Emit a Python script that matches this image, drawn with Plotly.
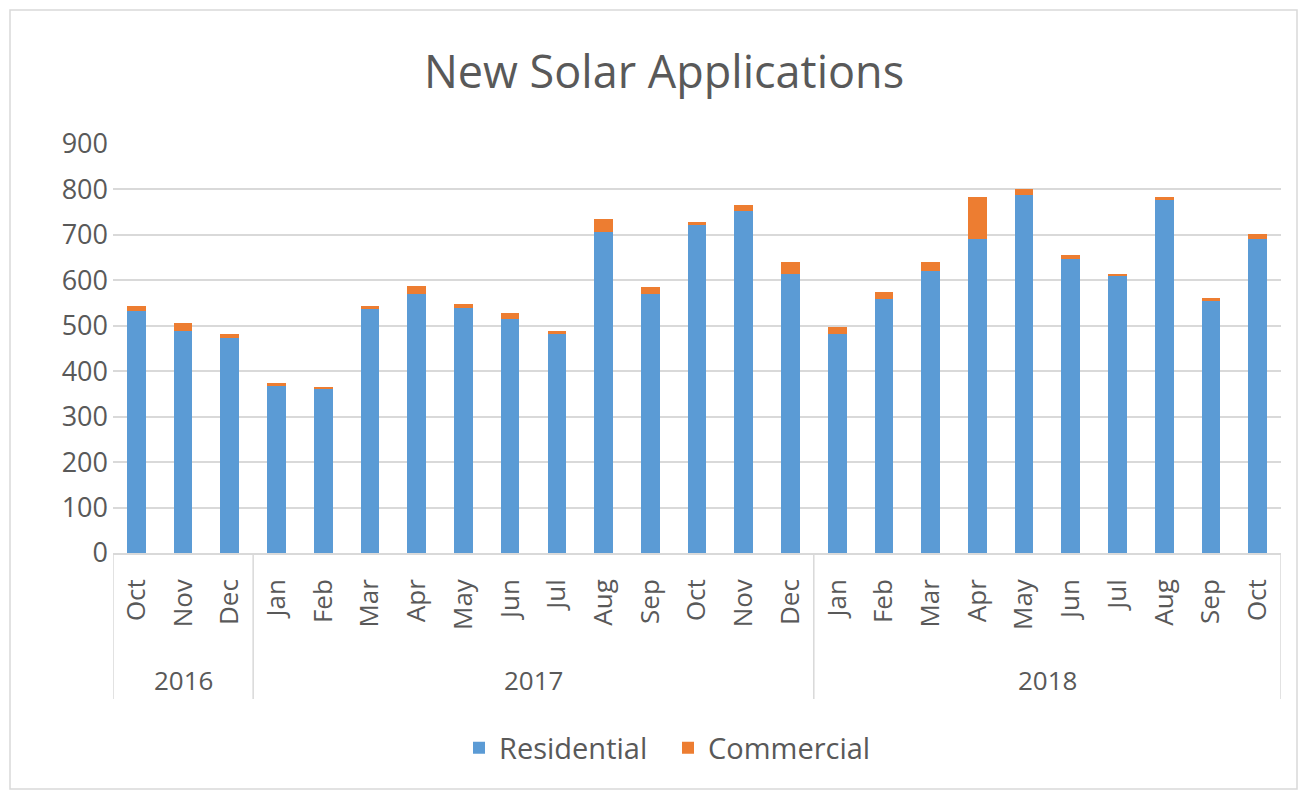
import plotly.graph_objects as go

years = ["2016"] * 3 + ["2017"] * 12 + ["2018"] * 10
months = ["Oct", "Nov", "Dec",
          "Jan", "Feb", "Mar", "Apr", "May", "Jun", "Jul", "Aug", "Sep", "Oct", "Nov", "Dec",
          "Jan", "Feb", "Mar", "Apr", "May", "Jun", "Jul", "Aug", "Sep", "Oct"]
residential = [532, 489, 474,
               368, 361, 536, 571, 539, 516, 482, 706, 570, 722, 753, 613,
               481, 558, 621, 691, 788, 648, 610, 777, 555, 691]
commercial = [12, 17, 7,
              5, 4, 7, 16, 9, 12, 7, 28, 16, 7, 12, 27,
              16, 16, 19, 93, 12, 8, 3, 7, 7, 12]
y_ticks = [0, 100, 200, 300, 400, 500, 600, 700, 800, 900]

FONT = "Open Sans"
GREY = "#595959"
LINE = "#d9d9d9"

idx = list(range(len(months)))

fig = go.Figure()
fig.add_trace(go.Bar(x=idx, y=residential, name="Residential",
                     marker=dict(color="#5B9BD5", line=dict(width=0))))
fig.add_trace(go.Bar(x=idx, y=commercial, name="Commercial",
                     marker=dict(color="#ED7D31", line=dict(width=0))))

W, H = 1306, 798
L, R, T, B = 113, 25, 144, 245
pw, ph = W - L - R, H - T - B

def px_x(p):
    return (p - L) / pw

def px_y(p):
    return (H - B - p) / ph

# year groups: boundaries and centres derived from the year list
groups = []
start = 0
for i in range(1, len(years) + 1):
    if i == len(years) or years[i] != years[start]:
        groups.append((years[start], start, i - 1))
        start = i

shapes = [dict(type="rect", xref="paper", yref="paper",
               x0=px_x(10), x1=px_x(1297), y0=px_y(789), y1=px_y(10),
               line=dict(color=LINE, width=1.5), fillcolor="rgba(0,0,0,0)", layer="below")]
annotations = []
bounds = [g[1] - 0.5 for g in groups] + [groups[-1][2] + 0.5]
for b in bounds:
    shapes.append(dict(type="line", xref="x", yref="paper", x0=b, x1=b,
                       y0=0, y1=px_y(699), line=dict(color=LINE, width=1.5)))
for name, a, b in groups:
    annotations.append(dict(text=name, xref="x", yref="paper", x=(a + b) / 2,
                            y=px_y(680), yanchor="middle", showarrow=False,
                            font=dict(size=26, color=GREY, family=FONT)))

fig.update_layout(
    width=W, height=H,
    barmode="stack", bargap=0.6,
    paper_bgcolor="white", plot_bgcolor="white",
    margin=dict(l=L, r=R, t=T, b=B, autoexpand=False),
    font=dict(family=FONT, color=GREY, size=26),
    title=dict(text="New Solar Applications", x=664 / W, xanchor="center",
               y=1 - 72 / H, yanchor="middle", font=dict(size=45, color=GREY, family=FONT)),
    xaxis=dict(range=[-0.5, len(months) - 0.5], tickvals=idx, ticktext=months,
               tickangle=-90, showgrid=False,
               showline=True, linecolor=LINE, linewidth=1.5,
               ticks="", tickfont=dict(size=26, color=GREY, family=FONT),
               ticklabelstandoff=14),
    yaxis=dict(range=[0, 900], tickvals=y_ticks, showgrid=True, gridcolor=LINE,
               gridwidth=1.5, zeroline=False, showline=False, ticks="",
               tickfont=dict(size=27, color=GREY, family=FONT),
               ticklabelstandoff=4),
    legend=dict(orientation="h", x=px_x(668), xanchor="center", y=px_y(748),
                yanchor="middle", font=dict(size=29, color=GREY, family=FONT),
                itemwidth=30, traceorder="normal", entrywidth=164, entrywidthmode="pixels"),
    shapes=shapes,
    annotations=annotations,
)

fig.write_html("out.html", config={"displayModeBar": False},
               post_script="document.body.style.margin='0';")
